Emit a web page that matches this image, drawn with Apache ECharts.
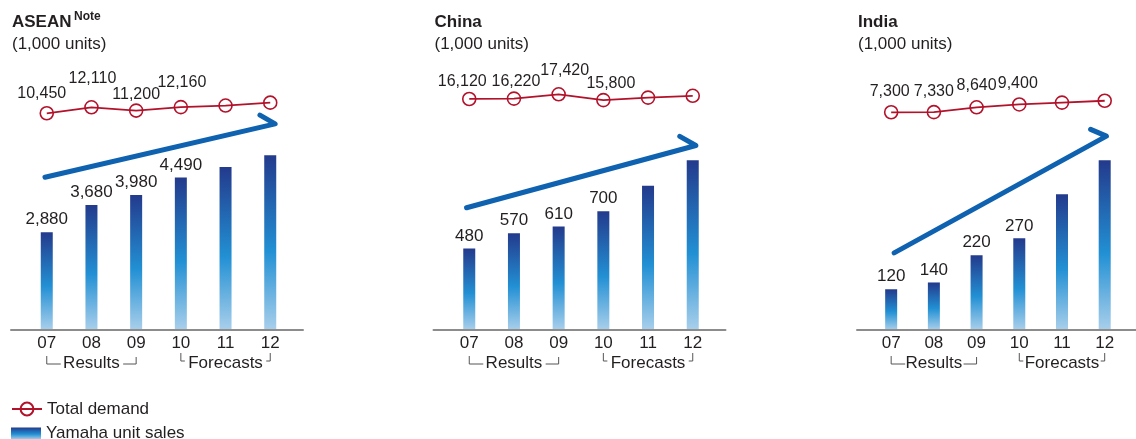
<!DOCTYPE html>
<html>
<head>
<meta charset="utf-8">
<script src="https://cdn.jsdelivr.net/npm/echarts@6/dist/echarts.min.js"></script>
<style>
  html, body { margin: 0; padding: 0; background: #fff; }
  #chart { width: 1136px; height: 439px; }
</style>
</head>
<body>
<div id="chart"></div>
<script>
// Fiscal years (20xx) shown on every panel
const categories = ['07', '08', '09', '10', '11', '12'];
const unitLabel = '(1,000 units)';
const periodLabels = ['Results', 'Forecasts'];
const legendNames = ['Total demand', 'Yamaha unit sales'];

// Total demand (thousand units)
const aseanDemand = [10450, 12110, 11200, 12160, 12600, 13400];
const chinaDemand = [16120, 16220, 17420, 15800, 16500, 17000];
const indiaDemand = [7300, 7330, 8640, 9400, 9900, 10400];

// Yamaha unit sales (thousand units)
const aseanSales = [2880, 3680, 3980, 4490, 4800, 5150];
const chinaSales = [480, 570, 610, 700, 850, 1000];
const indiaSales = [120, 140, 220, 270, 400, 500];

// Only the first four years carry printed values
const labelledYears = 4;

// Growth arrows, in [year index, sales] coordinates: tail, tip, barb
const aseanTrend = [[-0.04, 4500], [5.11, 6070], [4.77, 6330]];
const chinaTrend = [[-0.06, 720], [5.07, 1087], [4.71, 1141]];
const indiaTrend = [[0.07, 227], [5.04, 571], [4.67, 591]];

const TEXT = '#231f20';
const RED = '#b3122b';
const BLUE_ARROW = '#0f62b0';
const FONT = '"Liberation Sans", Arial, Helvetica, sans-serif';

const barGradient = new echarts.graphic.LinearGradient(0, 0, 0, 1, [
  { offset: 0, color: '#233a8c' },
  { offset: 0.55, color: '#2290d4' },
  { offset: 1, color: '#a9cfeb' }
]);

// Panel layout: where each region sits and how its axes are scaled
const panels = [
  { name: 'ASEAN', note: 'Note', left: 11, demand: aseanDemand, sales: aseanSales, trend: aseanTrend,
    salesMax: 8000, demandMin: 10000, demandMax: 14000, demandTop: 100.5, demandHeight: 14.4,
    demandLabelShift: [[-5, 3], [1, -6], [0, 6], [1, -2]] },
  { name: 'China', left: 433.5, demand: chinaDemand, sales: chinaSales, trend: chinaTrend,
    salesMax: 1600, demandMin: 15000, demandMax: 18000, demandTop: 92.2, demandHeight: 10.8,
    demandLabelShift: [[-7, 5], [2, 5], [6, -1], [7.5, 6]] },
  { name: 'India', left: 857, demand: indiaDemand, sales: indiaSales, trend: indiaTrend,
    salesMax: 800, demandMin: 7000, demandMax: 11000, demandTop: 98.5, demandHeight: 14.9,
    demandLabelShift: [[-1.5, 1.5], [0, 1.5], [0, 0.5], [-1.5, 1.5]] }
];

const PANEL_WIDTH = 292;
const X_MIN = -0.8, X_MAX = 5.733;
const AXIS_Y = 330;
const BAR_TOP = 58.4;

const grids = [], xAxes = [], yAxes = [], series = [], titles = [];

panels.forEach((p, i) => {
  // bar grid (index i)
  grids.push({ left: p.left, width: PANEL_WIDTH, top: BAR_TOP, height: AXIS_Y - BAR_TOP });
  xAxes.push({
    type: 'value', gridIndex: i, min: X_MIN, max: X_MAX, z: 3,
    axisLine: { show: true, lineStyle: { color: '#8c8c8c', width: 2 } },
    axisTick: { show: false },
    splitLine: { show: false },
    axisLabel: {
      customValues: categories.map((c, k) => k),
      formatter: v => categories[Math.round(v)],
      color: TEXT, fontSize: 17, fontFamily: FONT, margin: 5
    }
  });
  yAxes.push({ type: 'value', gridIndex: i, min: 0, max: p.salesMax, show: false });

  series.push({
    name: legendNames[1], type: 'bar', xAxisIndex: i, yAxisIndex: i, barWidth: 12,
    itemStyle: { color: barGradient },
    data: p.sales.map((v, k) => ({
      value: [k, v],
      label: { show: k < labelledYears }
    })),
    label: {
      position: 'top', distance: 4, color: TEXT, fontSize: 17, fontFamily: FONT,
      formatter: d => d.value[1].toLocaleString('en-US')
    }
  });

  series.push({
    name: 'trend-' + p.name, type: 'line', xAxisIndex: i, yAxisIndex: i, silent: true,
    symbol: 'none', z: 4,
    lineStyle: { color: BLUE_ARROW, width: 5, cap: 'round', join: 'round' },
    data: p.trend
  });

  titles.push({
    text: p.name, subtext: unitLabel, left: p.left + 1, top: 13.5, padding: 0, itemGap: 5,
    textStyle: { color: TEXT, fontSize: 17, fontWeight: 'bold', fontFamily: FONT },
    subtextStyle: { color: TEXT, fontSize: 17, fontFamily: FONT }
  });
  if (p.note) {
    titles.push({
      text: p.note, left: p.left + 63, top: 10.5, padding: 0,
      textStyle: { color: TEXT, fontSize: 12, fontWeight: 'bold', fontFamily: FONT }
    });
  }
});

panels.forEach((p, i) => {
  // demand grid (index 3 + i)
  const g = 3 + i;
  grids.push({ left: p.left, width: PANEL_WIDTH, top: p.demandTop, height: p.demandHeight });
  xAxes.push({ type: 'value', gridIndex: g, min: X_MIN, max: X_MAX, show: false });
  yAxes.push({ type: 'value', gridIndex: g, min: p.demandMin, max: p.demandMax, show: false });
  series.push({
    name: legendNames[0], type: 'line', xAxisIndex: g, yAxisIndex: g, z: 5,
    symbol: 'circle', symbolSize: 13,
    itemStyle: { color: 'rgba(255,255,255,0)', borderColor: RED, borderWidth: 1.6 },
    lineStyle: { color: RED, width: 1.8 },
    data: p.demand.map((v, k) => ({
      value: [k, v],
      label: k < labelledYears ? { show: true, offset: p.demandLabelShift[k] } : { show: false }
    })),
    label: {
      position: 'top', distance: 7, color: TEXT, fontSize: 16, fontFamily: FONT,
      formatter: d => d.value[1].toLocaleString('en-US')
    }
  });
});

const legendText = { color: TEXT, fontSize: 17, fontFamily: FONT };

const chart = echarts.init(document.getElementById('chart'), null, { renderer: 'canvas' });
chart.setOption({
  backgroundColor: '#ffffff',
  animation: false,
  title: titles,
  grid: grids,
  xAxis: xAxes,
  yAxis: yAxes,
  series: series,
  legend: [
    {
      left: 11, top: 400.5, padding: 0, itemWidth: 30, itemHeight: 16, selectedMode: false,
      textStyle: legendText, data: [{ name: legendNames[0] }]
    },
    {
      left: 11, top: 425, padding: 0, itemWidth: 30, itemHeight: 12, selectedMode: false,
      textStyle: legendText, data: [{ name: legendNames[1], icon: 'rect' }]
    }
  ]
});

// Period brackets under the year labels, placed from the axis scale
const graphics = [];
const BRACKET = { stroke: '#555', lineWidth: 1, fill: null };
panels.forEach((p, i) => {
  const px = k => chart.convertToPixel({ xAxisIndex: i }, k);
  const c0 = px(0), c2 = px(2), c3 = px(3), c5 = px(5);
  // Results: 07 - 09
  graphics.push({ type: 'polyline', shape: { points: [[c0, 356], [c0, 364], [c0 + 14, 364]] }, style: BRACKET });
  graphics.push({ type: 'polyline', shape: { points: [[c2 - 13, 364], [c2, 364], [c2, 357]] }, style: BRACKET });
  graphics.push({
    type: 'text', x: (c0 + c2) / 2, y: 363,
    style: { text: periodLabels[0], fill: TEXT, font: '17px ' + FONT, align: 'center', verticalAlign: 'middle' }
  });
  // Forecasts: 10 - 12
  graphics.push({ type: 'polyline', shape: { points: [[c3, 353], [c3, 361], [c3 + 4, 361]] }, style: BRACKET });
  graphics.push({ type: 'polyline', shape: { points: [[c5 - 4, 361], [c5, 361], [c5, 353]] }, style: BRACKET });
  graphics.push({
    type: 'text', x: (c3 + c5) / 2, y: 363,
    style: { text: periodLabels[1], fill: TEXT, font: '17px ' + FONT, align: 'center', verticalAlign: 'middle' }
  });
});
chart.setOption({ graphic: graphics });
</script>
</body>
</html>
